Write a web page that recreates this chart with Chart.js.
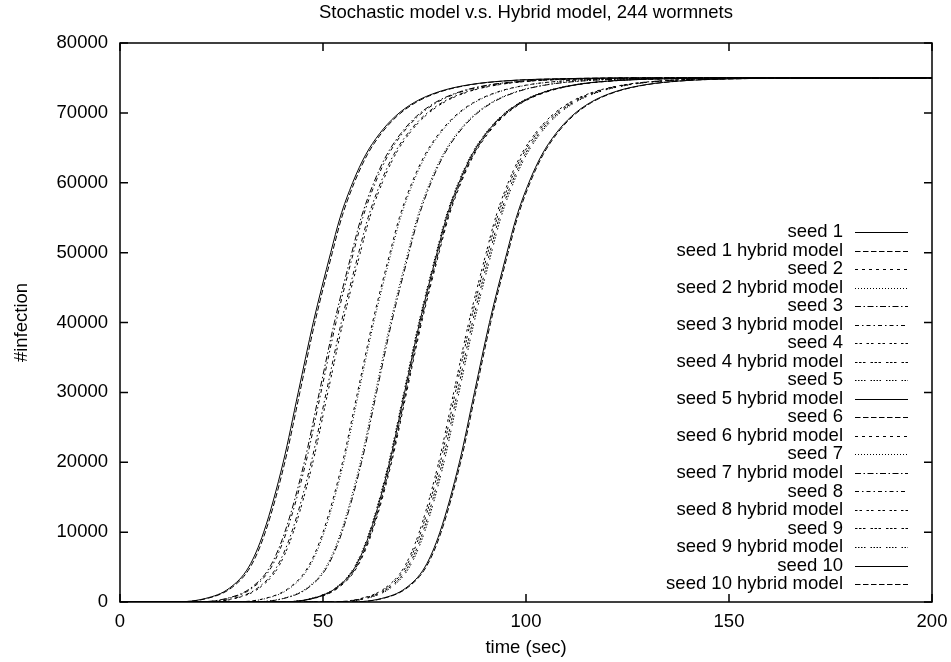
<!DOCTYPE html>
<html>
<head>
<meta charset="utf-8">
<script src="https://cdn.jsdelivr.net/npm/chart.js@4.4.0/dist/chart.umd.min.js"></script>
<style>
  html, body { margin: 0; padding: 0; background: #fff; }
</style>
</head>
<body>
<canvas id="chart" width="951" height="662"></canvas>
<script>
const FONT = '"Liberation Sans", Arial, Helvetica, sans-serif';
const TITLE = 'Stochastic model v.s. Hybrid model, 244 wormnets';

// infection levels, and the time (sec) at which each run reaches them
const levels = [0, 500, 2000, 5000, 10000, 20000, 30000, 40000, 50000, 55000, 60000, 64000, 67000, 69500, 71500, 73000, 74000, 74600, 74900, 75000];

const seed1        = [12.0, 21.0, 27.0, 31.7, 35.4, 40.2, 43.9, 47.6, 51.9, 54.2, 57.3, 60.5, 63.9, 67.8, 72.5, 78.4, 85.7, 95.3, 109.9, 125.0];
const seed1Hybrid  = [12.4, 21.4, 27.4, 32.1, 35.8, 40.6, 44.3, 48.0, 52.3, 54.6, 57.7, 60.9, 64.3, 68.2, 72.9, 78.8, 86.1, 95.7, 110.3, 125.4];
const seed2        = [26.6, 35.6, 41.6, 46.3, 50.0, 54.8, 58.5, 62.2, 66.5, 68.8, 71.9, 75.1, 78.5, 82.4, 87.1, 93.0, 100.3, 109.9, 124.5, 139.6];
const seed2Hybrid  = [26.9, 35.9, 41.9, 46.6, 50.3, 55.1, 58.8, 62.5, 66.8, 69.1, 72.2, 75.4, 78.8, 82.7, 87.4, 93.3, 100.6, 110.2, 124.8, 139.9];
const seed3        = [17.2, 26.2, 32.2, 36.9, 40.6, 45.4, 49.1, 52.8, 57.1, 59.4, 62.5, 65.7, 69.1, 73.0, 77.7, 83.6, 90.9, 100.5, 115.1, 130.2];
const seed3Hybrid  = [17.6, 26.6, 32.6, 37.3, 41.0, 45.8, 49.5, 53.2, 57.5, 59.8, 62.9, 66.1, 69.5, 73.4, 78.1, 84.0, 91.3, 100.9, 115.5, 130.6];
const seed4        = [50.3, 59.3, 65.3, 70.0, 73.7, 78.5, 82.2, 85.9, 90.2, 92.5, 95.6, 98.8, 102.2, 106.1, 110.8, 116.7, 124.0, 133.6, 148.2, 163.3];
const seed4Hybrid  = [50.7, 59.7, 65.7, 70.4, 74.1, 78.9, 82.6, 86.3, 90.6, 92.9, 96.0, 99.2, 102.6, 106.5, 111.2, 117.1, 124.4, 134.0, 148.6, 163.7];
const seed5        = [38.0, 47.0, 53.0, 57.7, 61.4, 66.2, 69.9, 73.6, 77.9, 80.2, 83.3, 86.5, 89.9, 93.8, 98.5, 104.4, 111.7, 121.3, 135.9, 151.0];
const seed5Hybrid  = [38.2, 47.2, 53.2, 57.9, 61.6, 66.4, 70.1, 73.8, 78.1, 80.4, 83.5, 86.7, 90.1, 94.0, 98.7, 104.6, 111.9, 121.5, 136.1, 151.2];
const seed6        = [38.5, 47.5, 53.5, 58.2, 61.9, 66.7, 70.4, 74.1, 78.4, 80.7, 83.8, 87.0, 90.4, 94.3, 99.0, 104.9, 112.2, 121.8, 136.4, 151.5];
const seed6Hybrid  = [38.7, 47.7, 53.7, 58.4, 62.1, 66.9, 70.6, 74.3, 78.6, 80.9, 84.0, 87.2, 90.6, 94.5, 99.2, 105.1, 112.4, 122.0, 136.6, 151.7];
const seed7        = [31.0, 40.0, 46.0, 50.7, 54.4, 59.2, 62.9, 66.6, 70.9, 73.2, 76.3, 79.5, 82.9, 86.8, 91.5, 97.4, 104.7, 114.3, 128.9, 144.0];
const seed7Hybrid  = [31.3, 40.3, 46.3, 51.0, 54.7, 59.5, 63.2, 66.9, 71.2, 73.5, 76.6, 79.8, 83.2, 87.1, 91.8, 97.7, 105.0, 114.6, 129.2, 144.3];
const seed8        = [18.9, 27.9, 33.9, 38.6, 42.3, 47.1, 50.8, 54.5, 58.8, 61.1, 64.2, 67.4, 70.8, 74.7, 79.4, 85.3, 92.6, 102.2, 116.8, 131.9];
const seed8Hybrid  = [19.3, 28.3, 34.3, 39.0, 42.7, 47.5, 51.2, 54.9, 59.2, 61.5, 64.6, 67.8, 71.2, 75.1, 79.8, 85.7, 93.0, 102.6, 117.2, 132.3];
const seed9        = [51.2, 60.2, 66.2, 70.9, 74.6, 79.4, 83.1, 86.8, 91.1, 93.4, 96.5, 99.7, 103.1, 107.0, 111.7, 117.6, 124.9, 134.5, 149.1, 164.2];
const seed9Hybrid  = [51.6, 60.6, 66.6, 71.3, 75.0, 79.8, 83.5, 87.2, 91.5, 93.8, 96.9, 100.1, 103.5, 107.4, 112.1, 118.0, 125.3, 134.9, 149.5, 164.6];
const seed10       = [55.4, 64.4, 70.4, 75.1, 78.8, 83.6, 87.3, 91.0, 95.3, 97.6, 100.7, 103.9, 107.3, 111.2, 115.9, 121.8, 129.1, 138.7, 153.3, 168.4];
const seed10Hybrid = [55.7, 64.7, 70.7, 75.4, 79.1, 83.9, 87.6, 91.3, 95.6, 97.9, 101.0, 104.2, 107.6, 111.5, 116.2, 122.1, 129.4, 139.0, 153.6, 168.7];

const runLabels = [
  'seed 1', 'seed 1 hybrid model', 'seed 2', 'seed 2 hybrid model',
  'seed 3', 'seed 3 hybrid model', 'seed 4', 'seed 4 hybrid model',
  'seed 5', 'seed 5 hybrid model', 'seed 6', 'seed 6 hybrid model',
  'seed 7', 'seed 7 hybrid model', 'seed 8', 'seed 8 hybrid model',
  'seed 9', 'seed 9 hybrid model', 'seed 10', 'seed 10 hybrid model'
];
const runTimes = [
  seed1, seed1Hybrid, seed2, seed2Hybrid, seed3, seed3Hybrid, seed4, seed4Hybrid,
  seed5, seed5Hybrid, seed6, seed6Hybrid, seed7, seed7Hybrid, seed8, seed8Hybrid,
  seed9, seed9Hybrid, seed10, seed10Hybrid
];

const xTicks = [0, 50, 100, 150, 200];
const yTicks = [0, 10000, 20000, 30000, 40000, 50000, 60000, 70000, 80000];

// gnuplot style line types, cycled every 9 curves
const dashes = [
  [],
  [5.5, 2.5],
  [3, 4],
  [1, 2],
  [6, 2.5, 1.5, 2.5],
  [4, 3, 1.5, 3],
  [2.5, 2, 2.5, 4.5],
  [2.5, 1.5, 2.5, 1.5, 2.5, 5],
  [1.5, 1.5, 1.5, 1.5, 1.5, 1.5, 1.5, 5]
];

function toPoints(times) {
  const pts = [{ x: 0, y: 0 }];
  times.forEach((t, i) => pts.push({ x: t, y: levels[i] }));
  pts.push({ x: 200, y: 75000 });
  return pts;
}

// box around the plot with inward ticks on all four sides, title above it
const framePlugin = {
  id: 'frame',
  afterDatasetsDraw(chart) {
    const { ctx, chartArea: a, scales: { x, y } } = chart;
    ctx.save();
    ctx.strokeStyle = '#000';
    ctx.lineWidth = 1.5;
    ctx.beginPath();
    xTicks.forEach(v => {
      const px = x.getPixelForValue(v);
      ctx.moveTo(px, a.bottom); ctx.lineTo(px, a.bottom - 8);
      ctx.moveTo(px, a.top); ctx.lineTo(px, a.top + 8);
    });
    yTicks.forEach(v => {
      const py = y.getPixelForValue(v);
      ctx.moveTo(a.left, py); ctx.lineTo(a.left + 8, py);
      ctx.moveTo(a.right, py); ctx.lineTo(a.right - 8, py);
    });
    ctx.stroke();
    ctx.strokeRect(a.left, a.top, a.right - a.left, a.bottom - a.top);

    ctx.font = '18.5px ' + FONT;
    ctx.fillStyle = '#000';
    ctx.textAlign = 'center';
    ctx.textBaseline = 'middle';
    ctx.fillText(TITLE, (a.left + a.right) / 2, 13);
    ctx.restore();
  }
};

// key in the lower right: label right-aligned, then a sample of the line
const keyPlugin = {
  id: 'key',
  afterDraw(chart) {
    const { ctx, chartArea: a } = chart;
    ctx.save();
    ctx.font = '18.5px ' + FONT;
    ctx.fillStyle = '#000';
    ctx.textAlign = 'right';
    ctx.textBaseline = 'middle';
    chart.data.datasets.forEach((ds, i) => {
      const yy = a.top + 189 + i * 18.53;
      ctx.fillText(ds.label, a.right - 89, yy);
      ctx.strokeStyle = '#000';
      ctx.lineWidth = 1;
      ctx.setLineDash(ds.borderDash);
      ctx.beginPath();
      ctx.moveTo(a.right - 77, Math.round(yy) + 0.5);
      ctx.lineTo(a.right - 24, Math.round(yy) + 0.5);
      ctx.stroke();
    });
    ctx.restore();
  }
};

const tickFont = { family: FONT, size: 18.5 };

const ctx = document.getElementById('chart').getContext('2d');
new Chart(ctx, {
  type: 'line',
  data: {
    datasets: runTimes.map((times, i) => ({
      label: runLabels[i],
      data: toPoints(times),
      borderColor: '#000',
      borderWidth: 1,
      borderDash: dashes[i % 9],
      pointRadius: 0,
      cubicInterpolationMode: 'monotone',
      fill: false
    }))
  },
  options: {
    responsive: false,
    animation: false,
    layout: { padding: { top: 43, right: 19 } },
    plugins: {
      legend: { display: false },
      tooltip: { enabled: false },
      title: { display: false }
    },
    scales: {
      x: {
        type: 'linear',
        min: 0,
        max: 200,
        afterBuildTicks: s => { s.ticks = xTicks.map(v => ({ value: v })); },
        afterFit: s => { s.height = 60; s.paddingLeft = 0; s.paddingRight = 0; },
        grid: { display: false, drawTicks: false },
        border: { display: false },
        ticks: { color: '#000', font: tickFont, padding: 9, maxRotation: 0, callback: v => String(v) },
        title: {
          display: true,
          text: 'time (sec)',
          color: '#000',
          font: tickFont,
          padding: { top: 0, bottom: 3 }
        }
      },
      y: {
        min: 0,
        max: 80000,
        afterBuildTicks: s => { s.ticks = yTicks.map(v => ({ value: v })); },
        afterFit: s => { s.width = 120; s.paddingTop = 0; s.paddingBottom = 0; },
        grid: { display: false, drawTicks: false },
        border: { display: false },
        ticks: { color: '#000', font: tickFont, padding: 12, callback: v => String(v) },
        title: {
          display: true,
          text: '#infection',
          color: '#000',
          font: tickFont,
          padding: { top: 11, bottom: 0 }
        }
      }
    }
  },
  plugins: [framePlugin, keyPlugin]
});
</script>
</body>
</html>
